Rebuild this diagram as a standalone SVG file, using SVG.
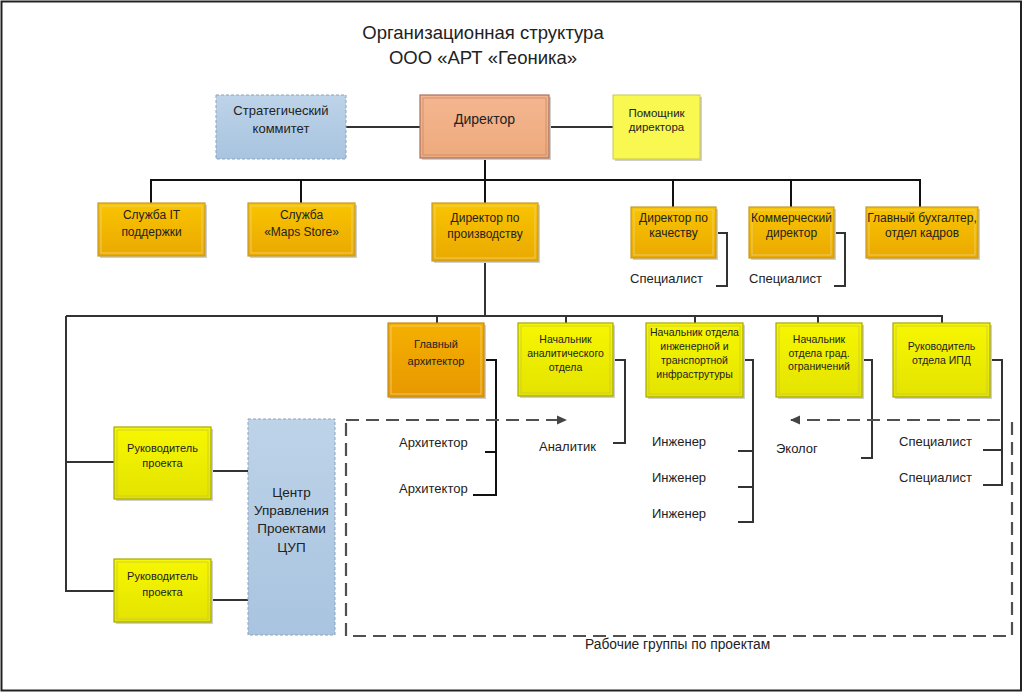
<svg xmlns="http://www.w3.org/2000/svg" width="1024" height="693" viewBox="0 0 1024 693">
<defs>
<linearGradient id="gOr" x1="0" y1="0" x2="0" y2="1"><stop offset="0" stop-color="#f9c400"/><stop offset="1" stop-color="#eaa900"/></linearGradient>
<linearGradient id="gOr2" x1="0" y1="0" x2="0" y2="1"><stop offset="0" stop-color="#f5b000"/><stop offset="1" stop-color="#e79800"/></linearGradient>
<linearGradient id="gYe" x1="0" y1="0" x2="0" y2="1"><stop offset="0" stop-color="#f7f700"/><stop offset="1" stop-color="#e3e300"/></linearGradient>
<linearGradient id="gDir" x1="0" y1="0" x2="0" y2="1"><stop offset="0" stop-color="#f4b690"/><stop offset="1" stop-color="#eeaa7c"/></linearGradient>
<linearGradient id="gBl" x1="0" y1="0" x2="0" y2="1"><stop offset="0" stop-color="#bdd3e8"/><stop offset="1" stop-color="#a9c4e0"/></linearGradient>
<marker id="ah" viewBox="0 0 10 10" refX="9" refY="5" markerWidth="10" markerHeight="10" orient="auto" markerUnits="userSpaceOnUse"><path d="M0,0.5 L10,5 L0,9.5 z" fill="#444"/></marker>
</defs>
<style>
text{font-family:"Liberation Sans",Arial,sans-serif;fill:#222;text-anchor:middle}
.t{font-size:18.5px}
.s{fill:#cfcfcf}
.or{fill:url(#gOr);stroke:#c49a2a;stroke-width:1.2}
.or2{fill:url(#gOr2);stroke:#c48a1a;stroke-width:1.2}
.ye{fill:url(#gYe);stroke:#a8a800;stroke-width:1.2}
.in{fill:none;stroke-width:0.8}
.ior{stroke:#f0d27a}
.iye{stroke:#c8c840}
.dir{fill:url(#gDir);stroke:#a8705a;stroke-width:1.2}
.bl{fill:url(#gBl);stroke:#8ea3b8;stroke-width:1;stroke-dasharray:3 2}
.c{fill:none;stroke:#333;stroke-width:2}
.k{fill:none;stroke:#111;stroke-width:2}
.d{fill:none;stroke:#505050;stroke-width:2.2;stroke-dasharray:13 7}
.f12{font-size:12px}.f11{font-size:11px}.f10{font-size:10.5px}.f13{font-size:13px}.f14{font-size:14px}
.l{text-anchor:start;font-size:13px}
</style>
<rect x="1.5" y="1.5" width="1019.5" height="689" fill="#fff" stroke="#222" stroke-width="2"/>
<g id="title">
<text class="t" x="483" y="39">Организационная структура</text>
<text class="t" x="483" y="64">ООО «АРТ «Геоника»</text>
</g>
<g id="connectors">
<path class="c" d="M346,127 H420 M549,127 H613"/>
<path class="k" d="M485,158 V180 M151,203 V180 H920 V207 M301,180 V203 M485,180 V203 M673,180 V207 M791,180 V207"/>
<path class="c" d="M716,233 H727 V286 H716 M834,233 H845 V286 H834"/>
<path class="c" d="M485,261 V316 M66,316 H942 V323 M437,316 V323 M566,316 V323 M695,316 V323 M818,316 V323"/>
<path class="c" d="M66,316 V591 H114 M66,462 H114 M211,471 H248 M211,600 H248"/>
<path class="k" d="M485,360 H496 V495 H473 M485,452 H496"/>
<path class="c" d="M613,360 H625 V443 H613"/>
<path class="c" d="M743,360 H753 V522 H738 M738,451 H753 M738,487 H753"/>
<path class="c" d="M862,360 H872 V458 H861"/>
<path class="c" d="M990,360 H1002 V485 H983 M983,450 H1002 M1002,420 V422"/>
<path class="d" d="M346,420 H566" marker-end="url(#ah)"/>
<path class="d" d="M1000,420 H791" marker-end="url(#ah)"/>
<path class="d" d="M1012,422 V636 H346 V420"/>
</g>
<g id="n-strat"><rect x="216" y="95" width="130" height="64" class="bl"/><text class="f13" x="281" y="115">Стратегический</text><text class="f13" x="281" y="133">коммитет</text></g>
<g id="n-dir"><rect x="422" y="97" width="129" height="63" class="s"/><rect x="420" y="95" width="129" height="63" class="dir"/><rect x="423" y="98" width="123" height="57" class="in" stroke="#c88a6a"/><text class="f14" x="484.5" y="124">Директор</text></g>
<g id="n-help"><rect x="615" y="97" width="87" height="64" class="s"/><rect x="613" y="95" width="87" height="64" fill="#f8f850" stroke="#c8c850" stroke-width="1"/><text x="656.5" y="117" style="font-size:11.5px">Помощник</text><text x="656.5" y="131" style="font-size:11.5px">директора</text></g>

<g id="n-it"><rect x="100" y="205" width="107" height="53" class="s"/><rect x="98" y="203" width="107" height="53" class="or"/><rect x="101" y="206" width="101" height="47" class="in ior"/><text class="f12" x="151.5" y="219">Служба IT</text><text class="f12" x="151.5" y="236">поддержки</text></g>
<g id="n-maps"><rect x="250" y="205" width="107" height="53" class="s"/><rect x="248" y="203" width="107" height="53" class="or"/><rect x="251" y="206" width="101" height="47" class="in ior"/><text class="f12" x="301.5" y="219">Служба</text><text class="f12" x="301.5" y="236">«Maps Store»</text></g>
<g id="n-prod"><rect x="434" y="205" width="106" height="58" class="s"/><rect x="432" y="203" width="106" height="58" class="or"/><rect x="435" y="206" width="100" height="52" class="in ior"/><text class="f12" x="485" y="222">Директор по</text><text class="f12" x="485" y="238">производству</text></g>
<g id="n-qual"><rect x="633" y="209" width="85" height="51" class="s"/><rect x="631" y="207" width="85" height="51" class="or"/><rect x="634" y="210" width="79" height="45" class="in ior"/><text class="f12" x="673.5" y="222">Директор по</text><text class="f12" x="673.5" y="237">качеству</text></g>
<g id="n-comm"><rect x="751" y="209" width="85" height="51" class="s"/><rect x="749" y="207" width="85" height="51" class="or"/><rect x="752" y="210" width="79" height="45" class="in ior"/><text class="f12" x="791.5" y="222">Коммерческий</text><text class="f12" x="791.5" y="237">директор</text></g>
<g id="n-buh"><rect x="868" y="209" width="112" height="51" class="s"/><rect x="866" y="207" width="112" height="51" class="or"/><rect x="869" y="210" width="106" height="45" class="in ior"/><text class="f12" x="922" y="222">Главный бухгалтер,</text><text class="f12" x="922" y="237">отдел кадров</text></g>
<g id="l-spec1"><text class="l" x="630" y="283">Специалист</text></g>
<g id="l-spec2"><text class="l" x="749" y="283">Специалист</text></g>

<g id="n-arch"><rect x="390" y="325" width="96" height="74" class="s"/><rect x="388" y="323" width="96" height="74" class="or2"/><rect x="391" y="326" width="90" height="68" class="in ior"/><text class="f11" x="436" y="348">Главный</text><text class="f11" x="436" y="365">архитектор</text></g>
<g id="n-anal"><rect x="520" y="325" width="95" height="73" class="s"/><rect x="518" y="323" width="95" height="73" class="ye"/><rect x="521" y="326" width="89" height="67" class="in iye"/><text class="f10" x="565.5" y="343">Начальник</text><text class="f10" x="565.5" y="357">аналитического</text><text class="f10" x="565.5" y="371">отдела</text></g>
<g id="n-eng"><rect x="648" y="325" width="97" height="74" class="s"/><rect x="646" y="323" width="97" height="74" class="ye"/><rect x="649" y="326" width="91" height="68" class="in iye"/><text class="f10" x="694.5" y="336">Начальник отдела</text><text class="f10" x="694.5" y="350">инженерной и</text><text class="f10" x="694.5" y="364">транспортной</text><text class="f10" x="694.5" y="378">инфраструтуры</text></g>
<g id="n-grad"><rect x="778" y="325" width="86" height="74" class="s"/><rect x="776" y="323" width="86" height="74" class="ye"/><rect x="779" y="326" width="80" height="68" class="in iye"/><text class="f10" x="819" y="343">Начальник</text><text class="f10" x="819" y="357">отдела град.</text><text class="f10" x="819" y="370">ограничений</text></g>
<g id="n-ipd"><rect x="895" y="325" width="97" height="74" class="s"/><rect x="893" y="323" width="97" height="74" class="ye"/><rect x="896" y="326" width="91" height="68" class="in iye"/><text class="f10" x="941.5" y="350">Руководитель</text><text class="f10" x="941.5" y="364">отдела ИПД</text></g>

<g id="n-rp1"><rect x="116" y="429" width="97" height="72" class="s"/><rect x="114" y="427" width="97" height="72" class="ye"/><rect x="117" y="430" width="91" height="66" class="in iye"/><text class="f11" x="162.5" y="452">Руководитель</text><text class="f11" x="162.5" y="467">проекта</text></g>
<g id="n-rp2"><rect x="116" y="561" width="97" height="63" class="s"/><rect x="114" y="559" width="97" height="63" class="ye"/><rect x="117" y="562" width="91" height="57" class="in iye"/><text class="f11" x="162.5" y="580">Руководитель</text><text class="f11" x="162.5" y="596">проекта</text></g>
<g id="n-cup"><rect x="248" y="419" width="87" height="216" class="bl"/><text x="291.5" y="497" style="font-size:13.5px">Центр</text><text x="291.5" y="515" style="font-size:13.5px">Управления</text><text x="291.5" y="533" style="font-size:13.5px">Проектами</text><text x="291.5" y="552" style="font-size:13.5px">ЦУП</text></g>

<g id="l-arch1"><text class="l" x="399" y="447">Архитектор</text></g>
<g id="l-arch2"><text class="l" x="399" y="493">Архитектор</text></g>
<g id="l-anal"><text class="l" x="539" y="451">Аналитик</text></g>
<g id="l-eng1"><text class="l" x="652" y="446">Инженер</text></g>
<g id="l-eng2"><text class="l" x="652" y="482">Инженер</text></g>
<g id="l-eng3"><text class="l" x="652" y="518">Инженер</text></g>
<g id="l-eco"><text class="l" x="776" y="453">Эколог</text></g>
<g id="l-spec3"><text class="l" x="899" y="446">Специалист</text></g>
<g id="l-spec4"><text class="l" x="899" y="482">Специалист</text></g>
<g id="l-groups"><text class="l" x="585" y="649" style="font-size:13.8px">Рабочие группы по проектам</text></g>
</svg>
